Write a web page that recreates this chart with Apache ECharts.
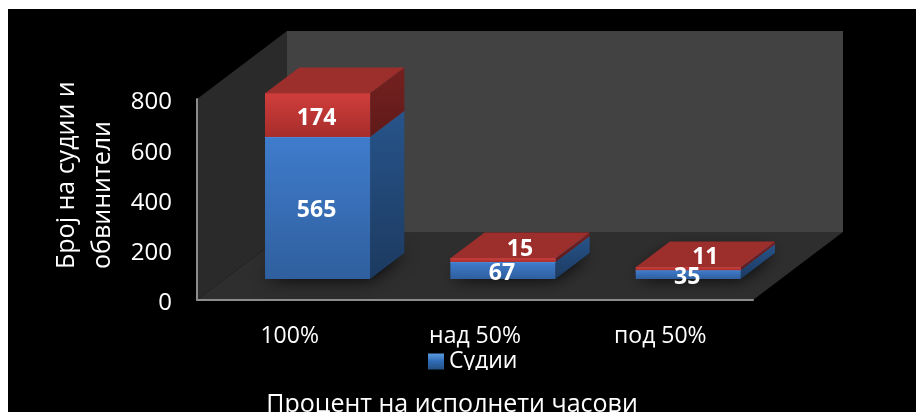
<!DOCTYPE html>
<html>
<head>
<meta charset="utf-8">
<style>
  html, body { margin: 0; padding: 0; background: #fff; }
  #chart { width: 916px; height: 412px; }
</style>
<script src="https://cdn.jsdelivr.net/npm/echarts@6/dist/echarts.min.js"></script>
</head>
<body>
<div id="chart"></div>
<script>
const FONT = '"Open Sans", sans-serif';

const categories = ['100%', 'над 50%', 'под 50%'];
const sudii = [565, 67, 35];
const obviniteli = [174, 15, 11];
const yTicks = [0, 200, 400, 600, 800];

// how far the back of the box sits behind the axis plane, in px
const DX = 90, DY = -68;
const BAR_FRONT = 0.31;  // front of the bars, share of the depth
const BAR_DEPTH = 0.38;
const BAR_WIDTH = 0.567; // share of a category

const blue = {
  front: ['#3f7ccc', '#2f5f9e'], side: ['#27548a', '#1c3a60'], top: '#3a6fb5', edge: '#4a88d6'
};
const red = {
  front: ['#d03e3c', '#a62d2b'], side: ['#742120', '#5f1a19'], top: '#9c2e2c', edge: '#c23a37'
};

function vGrad(pair) {
  const stops = pair.map((c, i) => ({ offset: i / (pair.length - 1), color: c }));
  return new echarts.graphic.LinearGradient(0, 0, 0, 1, stops);
}

// walls and floor of the box, taken from the grid rectangle
function renderWalls(params, api) {
  const g = params.coordSys;
  const x0 = g.x, x1 = g.x + g.width, y0 = g.y, y1 = g.y + g.height;
  return {
    type: 'group',
    children: [
      { type: 'polygon', shape: { points: [[x0 + DX, y0 + DY], [x1 + DX, y0 + DY], [x1 + DX, y1 + DY], [x0 + DX, y1 + DY]] }, style: { fill: '#424242' } },
      { type: 'polygon', shape: { points: [[x0, y0], [x0 + DX, y0 + DY], [x0 + DX, y1 + DY], [x0, y1]] }, style: { fill: '#2a2a2a' } },
      { type: 'polygon', shape: { points: [[x0, y1], [x0 + DX, y1 + DY], [x1 + DX, y1 + DY], [x1, y1]] }, style: { fill: '#2e2e2e' } }
    ]
  };
}

function makeRender(colors, below, withShadow) {
  return function (params, api) {
    const i = api.value(0);
    const v = api.value(1);
    const base = below ? below[i] : 0;
    const c0 = api.coord([i, base]);
    const c1 = api.coord([i, base + v]);
    const w = api.size([1, 0])[0] * BAR_WIDTH;
    const ox = DX * BAR_FRONT, oy = DY * BAR_FRONT;
    const dx = DX * BAR_DEPTH, dy = DY * BAR_DEPTH;
    const l = c0[0] - w / 2 + ox, r = l + w;
    const b = c0[1] + oy, t = c1[1] + oy;
    const children = [];
    if (withShadow) {
      // the footprint itself stays hidden under the box, only its blur shows
      children.push({
        type: 'polygon',
        shape: { points: [[l, b], [r, b], [r + dx, b + dy], [l + dx, b + dy]] },
        style: { fill: '#111', shadowBlur: 18, shadowColor: '#000', shadowOffsetY: -1 }
      });
    }
    children.push(
      { type: 'polygon', shape: { points: [[r, t], [r + dx, t + dy], [r + dx, b + dy], [r, b]] }, style: { fill: vGrad(colors.side) } },
      { type: 'polygon', shape: { points: [[l, t], [r, t], [r + dx, t + dy], [l + dx, t + dy]] }, style: { fill: colors.top } },
      { type: 'rect', shape: { x: l, y: t, width: w, height: b - t }, style: { fill: vGrad(colors.front) } },
      { type: 'line', shape: { x1: l, y1: t + 0.5, x2: r, y2: t + 0.5 }, style: { stroke: colors.edge, lineWidth: 1 } }
    );
    // a label that does not fit the front face moves to the middle of the box
    const small = b - t < 6;
    children.push({
      type: 'text',
      z2: 100,
      x: (l + r) / 2 + (small ? dx / 2 : -1),
      y: (t + b) / 2 + (small ? dy / 2 : 1) + 2,
      style: {
        text: String(v), fill: '#fff', font: 'bold 23px ' + FONT,
        align: 'center', verticalAlign: 'middle'
      }
    });
    return { type: 'group', children: children };
  };
}

const chart = echarts.init(document.getElementById('chart'), null, { renderer: 'canvas' });
chart.setOption({
  animation: false,
  backgroundColor: '#fff',
  textStyle: { fontFamily: FONT },
  grid: { left: 197, top: 99, width: 556, height: 201 },
  legend: {
    data: [{
      name: 'Судии',
      icon: 'rect',
      itemStyle: { color: vGrad(['#5b9be0', '#2f6bb5', '#24507f']) }
    }],
    left: 428, top: 350, padding: 0,
    itemWidth: 16, itemHeight: 16, itemGap: 7,
    textStyle: { color: '#fff', fontSize: 23, fontFamily: FONT }
  },
  xAxis: {
    type: 'category',
    data: categories,
    z: 5,
    axisTick: { show: false },
    axisLine: { lineStyle: { color: '#8c8c8c', width: 2 } },
    axisLabel: { color: '#fff', fontSize: 23, margin: 25, fontFamily: FONT }
  },
  yAxis: {
    type: 'value',
    min: yTicks[0],
    max: yTicks[yTicks.length - 1],
    interval: 200,
    z: 5,
    splitLine: { show: false },
    axisTick: { show: false },
    axisLine: { show: true, lineStyle: { color: '#8c8c8c', width: 2 } },
    // top-anchored with a short line box: sits a little under the tick like the reference
    axisLabel: { color: '#fff', fontSize: 24, margin: 25, verticalAlign: 'top', lineHeight: 7, fontFamily: FONT }
  },
  graphic: [
    { type: 'rect', z: -10, silent: true, shape: { x: 8, y: 9, width: 908, height: 403 }, style: { fill: '#000' } },
    // the reference crops the legend text just under its baseline
    { type: 'rect', z: 100, silent: true, shape: { x: 420, y: 370, width: 120, height: 16 }, style: { fill: '#000' } },
    {
      type: 'text', rotation: Math.PI / 2, x: 85, y: 269,
      style: { text: 'Број на судии и\nобвинители', fill: '#fff', font: '25px ' + FONT, lineHeight: 36, align: 'left', verticalAlign: 'middle' }
    },
    {
      type: 'text', x: 452, y: 405,
      style: { text: 'Процент на исполнети часови', fill: '#fff', font: '25px ' + FONT, align: 'center', verticalAlign: 'middle' }
    }
  ],
  series: [
    {
      type: 'custom', name: 'box', silent: true, z: 1, clip: false,
      renderItem: renderWalls, data: [0]
    },
    {
      type: 'custom', name: 'Судии', z: 2, clip: false,
      itemStyle: { color: blue.front[0] },
      renderItem: makeRender(blue, null, true),
      encode: { x: 0, y: 1 },
      data: sudii.map((v, i) => [i, v])
    },
    {
      type: 'custom', name: 'Обвинители', z: 2, clip: false,
      itemStyle: { color: red.front[0] },
      renderItem: makeRender(red, sudii, false),
      encode: { x: 0, y: 1 },
      data: obviniteli.map((v, i) => [i, v])
    }
  ]
});
</script>
</body>
</html>
